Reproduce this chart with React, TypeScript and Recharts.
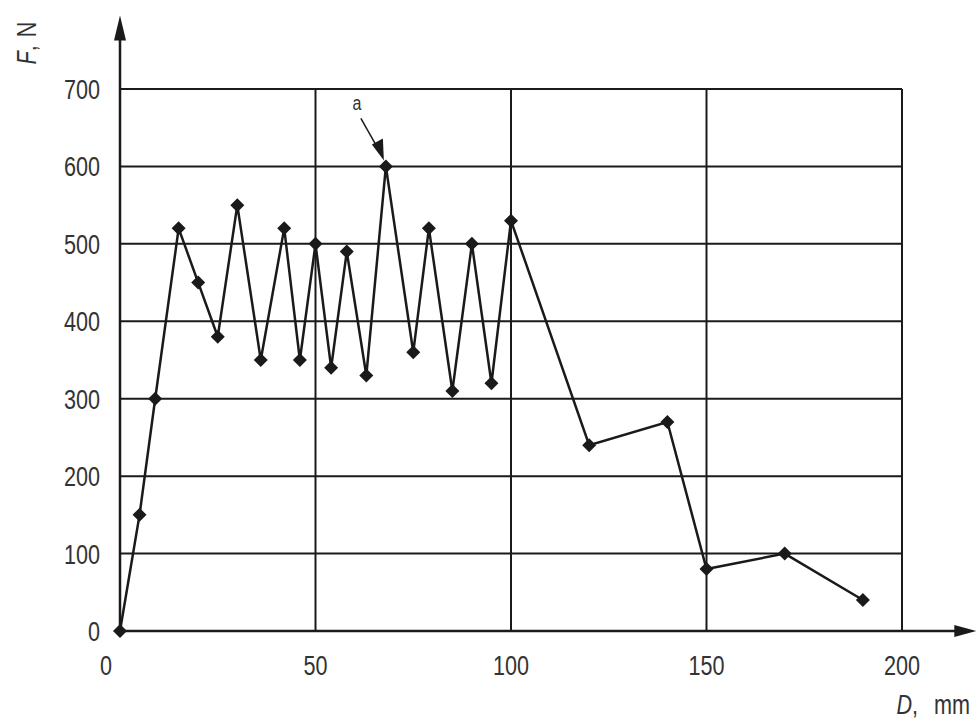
import { LineChart, Line, XAxis, YAxis, CartesianGrid, ReferenceLine, ReferenceDot } from "recharts";

// D, mm
const distance = [0, 5, 9, 15, 20, 25, 30, 36, 42, 46, 50, 54, 58, 63, 68, 75, 79, 85, 90, 95, 100, 120, 140, 150, 170, 190];
// F, N
const force = [0, 150, 300, 520, 450, 380, 550, 350, 520, 350, 500, 340, 490, 330, 600, 360, 520, 310, 500, 320, 530, 240, 270, 80, 100, 40];

const xTicks = [0, 50, 100, 150, 200];
const yTicks = [0, 100, 200, 300, 400, 500, 600, 700];

// axis arrows run past the grid
const xAxisEnd = 219;
const yAxisEnd = 795;

const peakD = 68;
const peakF = 600;
const peakLabel = "a";

const INK = "#1a1a1a";
const TEXT = "#333";
const FONT = "'Liberation Sans', Arial, sans-serif";
const NARROW = 0.8;

const data = distance.map((d, i) => ({ d, f: force[i] }));

// narrow lettering like the ISO drawing font
function Narrow({ x, y, anchor = "middle", size = 27, children }: any) {
  return (
    <text
      transform={`translate(${x} ${y}) scale(${NARROW} 1)`}
      textAnchor={anchor}
      fontFamily={FONT}
      fontSize={size}
      fill={TEXT}
    >
      {children}
    </text>
  );
}

function Diamond({ cx, cy }: any) {
  if (cx == null || cy == null) return null;
  const r = 7;
  return <polygon points={`${cx},${cy - r} ${cx + r},${cy} ${cx},${cy + r} ${cx - r},${cy}`} fill={INK} />;
}

function XTick({ x, y, payload }: any) {
  const shift = payload.value === 0 ? -14 : 0;
  return <Narrow x={x + shift} y={y + 44}>{payload.value}</Narrow>;
}

function YTick({ x, y, payload }: any) {
  return <Narrow x={x - 20} y={y + 10} anchor="end">{payload.value}</Narrow>;
}

function HArrow({ x1, y1, x2, y2 }: any) {
  return (
    <g>
      <line x1={x1} y1={y1} x2={x2 - 10} y2={y2} stroke={INK} strokeWidth={2.5} />
      <polygon points={`${x2},${y2} ${x2 - 22},${y2 - 6} ${x2 - 22},${y2 + 6}`} fill={INK} />
    </g>
  );
}

function VArrow({ x1, y1, x2, y2 }: any) {
  const top = Math.min(y1, y2);
  const bottom = Math.max(y1, y2);
  return (
    <g>
      <line x1={x1} y1={bottom} x2={x2} y2={top + 10} stroke={INK} strokeWidth={2.5} />
      <polygon points={`${x2},${top} ${x2 - 6},${top + 25} ${x2 + 6},${top + 25}`} fill={INK} />
    </g>
  );
}

function PeakNote({ cx, cy }: any) {
  if (cx == null || cy == null) return null;
  return (
    <g>
      <line x1={cx - 25} y1={cy - 48} x2={cx - 8} y2={cy - 18} stroke={INK} strokeWidth={1.5} />
      <polygon points={`${cx - 2},${cy - 6} ${cx - 14},${cy - 22} ${cx - 3},${cy - 28}`} fill={INK} />
      <Narrow x={cx - 29} y={cy - 56} size={20}>{peakLabel}</Narrow>
    </g>
  );
}

export default function App() {
  return (
    <div style={{ width: 978, height: 728, background: "#fff", position: "relative" }}>
      <style>{`body{margin:0;}`}</style>
      <LineChart width={978} height={728} data={data} margin={{ top: 89, right: 76, bottom: 0, left: 0 }}>
        <CartesianGrid stroke={INK} strokeWidth={2} horizontalValues={yTicks} verticalValues={xTicks} />
        <XAxis
          dataKey="d"
          type="number"
          domain={[0, 200]}
          ticks={xTicks}
          height={97}
          axisLine={false}
          tickLine={false}
          tickSize={0}
          tickMargin={0}
          tick={<XTick />}
        />
        <YAxis
          type="number"
          domain={[0, 700]}
          ticks={yTicks}
          width={120}
          axisLine={false}
          tickLine={false}
          tickSize={0}
          tickMargin={0}
          tick={<YTick />}
        />
        <ReferenceLine
          segment={[{ x: 0, y: 0 }, { x: xAxisEnd, y: 0 }]}
          ifOverflow="visible"
          shape={<HArrow />}
        />
        <ReferenceLine
          segment={[{ x: 0, y: 0 }, { x: 0, y: yAxisEnd }]}
          ifOverflow="visible"
          shape={<VArrow />}
        />
        <Line
          dataKey="f"
          stroke={INK}
          strokeWidth={2.5}
          dot={<Diamond />}
          activeDot={false}
          isAnimationActive={false}
        />
        <ReferenceDot x={peakD} y={peakF} ifOverflow="visible" shape={<PeakNote />} />
      </LineChart>
      <svg width={978} height={728} style={{ position: "absolute", left: 0, top: 0, pointerEvents: "none" }}>
        <g transform="translate(36 43) rotate(-90)">
          <Narrow x={0} y={0} size={27}>
            <tspan fontStyle="italic">F</tspan>,<tspan dx={10}>N</tspan>
          </Narrow>
        </g>
        <Narrow x={970} y={714} anchor="end" size={27}>
          <tspan fontStyle="italic">D</tspan>,<tspan dx={20}>mm</tspan>
        </Narrow>
      </svg>
    </div>
  );
}
